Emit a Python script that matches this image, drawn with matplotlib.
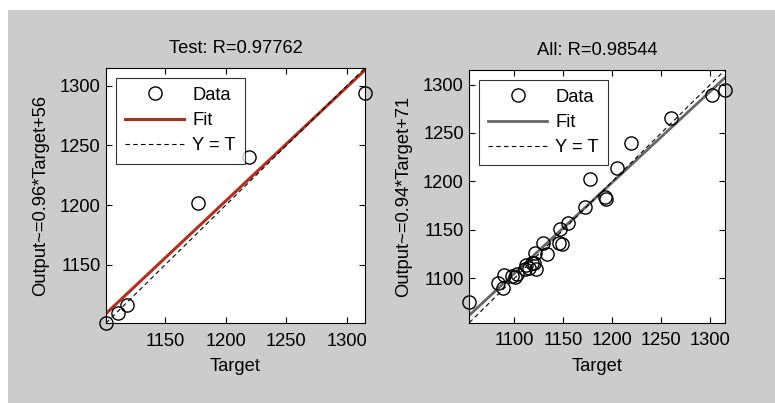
import matplotlib
matplotlib.use("Agg")
import matplotlib.pyplot as plt
from matplotlib.patches import Rectangle
import numpy as np

plt.rcParams['font.family'] = ['Liberation Sans', 'DejaVu Sans']

# Test set (target, output)
test_target = [1101, 1111, 1118, 1177, 1219, 1315]
test_output = [1101, 1109, 1116, 1202, 1240, 1294]
test_fit = (0.955, 57.5)
test_title = "Test: R=0.97762"
test_ylabel = "Output~=0.96*Target+56"

# All data (target, output)
all_target = [1054, 1083, 1088, 1089, 1098, 1101, 1103, 1111, 1112, 1115, 1118, 1120,
              1122, 1121, 1129, 1133, 1146, 1149, 1147, 1155, 1172, 1177, 1192, 1193,
              1205, 1219, 1260, 1302, 1315]
all_output = [1075, 1095, 1090, 1103, 1102, 1101, 1104, 1109, 1114, 1110, 1116, 1116,
              1109, 1126, 1136, 1125, 1136, 1135, 1151, 1157, 1173, 1202, 1184, 1182,
              1214, 1240, 1265, 1289, 1294]
all_fit = (0.94, 71)
all_title = "All: R=0.98544"
all_ylabel = "Output~=0.94*Target+71"

ticks_test = [1150, 1200, 1250, 1300]
ticks_all = [1100, 1150, 1200, 1250, 1300]

BG = "#cccccc"
FS = 13.2

fig = plt.figure(figsize=(7.75, 4.03), dpi=100, facecolor="white")
fig.patches.append(Rectangle((8 / 775, 0), 1, 393 / 403, transform=fig.transFigure,
                             facecolor=BG, edgecolor="none", zorder=-10))


def draw_panel(ax, tx, oy, fit, title, ylabel, ticks, fit_color, fit_lw):
    lo = min(min(tx), min(oy))
    hi = max(max(tx), max(oy))
    xs = np.array([lo, hi])
    ax.plot(tx, oy, "o", mfc="none", mec="black", ms=9.5, mew=1.0, label="Data",
            zorder=3, clip_on=False)
    ax.plot(xs, fit[0] * xs + fit[1], "-", color=fit_color, lw=fit_lw, label="Fit", zorder=2)
    ax.plot(xs, xs, "--", color="black", lw=0.8, dashes=(4, 3), label="Y = T", zorder=2)
    ax.set_xlim(lo, hi)
    ax.set_ylim(lo, hi)
    ax.set_xticks(ticks)
    ax.set_yticks(ticks)
    ax.tick_params(direction="in", top=True, right=True, length=4, labelsize=FS,
                   width=0.8)
    ax.tick_params(axis="x", pad=7)
    ax.tick_params(axis="y", pad=4)
    for s in ax.spines.values():
        s.set_linewidth(0.8)
    ax.set_facecolor("white")
    ax.set_title(title, fontsize=FS, pad=11)
    ax.set_xlabel("Target", fontsize=FS, labelpad=6)
    ax.set_ylabel(ylabel, fontsize=FS, labelpad=7.5)
    leg = ax.legend(loc="upper left", bbox_to_anchor=(0.039, 0.962), fontsize=FS,
                    frameon=True, fancybox=False, edgecolor="black", borderaxespad=0,
                    handlelength=3.2, handletextpad=0.45, labelspacing=0.45,
                    borderpad=0.5)
    leg.get_frame().set_linewidth(0.8)


ax1 = fig.add_axes([0.1368, 0.1985, 0.3342, 0.6328])
draw_panel(ax1, test_target, test_output, test_fit, test_title, test_ylabel,
           ticks_test, "#b03020", 2.2)

ax2 = fig.add_axes([0.6056, 0.1993, 0.3299, 0.627])
draw_panel(ax2, all_target, all_output, all_fit, all_title, all_ylabel,
           ticks_all, "#666666", 2.0)

fig.savefig("out.png", dpi=100, facecolor=fig.get_facecolor())
